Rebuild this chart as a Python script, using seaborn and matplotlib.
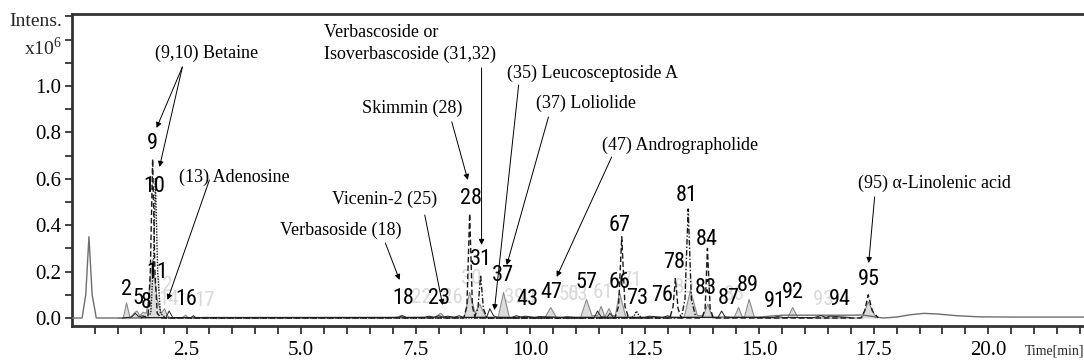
import numpy as np
import matplotlib
matplotlib.use('Agg')
import matplotlib.pyplot as plt
import seaborn as sns

sns.set_theme(style='white')
plt.rcParams['font.family'] = ['Liberation Serif', 'DejaVu Serif']
plt.rcParams['mathtext.fontset'] = 'custom'
plt.rcParams['mathtext.rm'] = 'Liberation Serif'
NUM_FONT = ['Liberation Sans Narrow', 'DejaVu Sans Condensed', 'Roboto Condensed',
            'Liberation Sans']

# ---- chromatogram traces (time in min, intensity x10^6) ----
base_t = [0.0, 0.22, 0.30, 0.37, 0.44, 0.53, 1.10, 3.00, 15.0, 15.5, 17.0, 17.25,
          17.7, 18.0, 18.3, 18.6, 18.9, 19.3, 19.8, 20.5, 22.3]
base_y = [0.0, 0.0, 0.10, 0.35, 0.10, 0.0, 0.0, 0.002, 0.004, 0.012, 0.012, 0.013,
          0.0, 0.004, 0.014, 0.02, 0.017, 0.01, 0.005, 0.004, 0.004]

fill_t = [1.00, 1.12, 1.19, 1.27, 1.35, 1.42, 1.48, 1.55, 1.62, 1.67, 1.76, 1.86, 1.95, 2.02, 2.08, 2.15,
          2.40, 2.48, 2.55, 7.10, 7.18, 7.26, 7.90, 8.05, 8.15,
          8.56, 8.68, 8.80, 8.90, 8.97, 9.05, 9.30, 9.42, 9.55,
          10.32, 10.45, 10.58, 11.10, 11.23, 11.35, 11.47, 11.55, 11.63, 11.72, 11.80, 11.86, 11.95, 12.08, 12.20,
          13.36, 13.50, 13.65, 13.78, 13.88, 13.98,
          14.45, 14.55, 14.63, 14.68, 14.78, 14.90, 15.62, 15.73, 15.85, 17.25, 17.38, 17.55]
fill_y = [0, 0, 0.065, 0, 0.02, 0.03, 0.01, 0.025, 0.02, 0.08, 0.25, 0.08, 0.02, 0.04, 0.01, 0,
          0, 0.012, 0, 0, 0.012, 0, 0, 0.02, 0,
          0, 0.11, 0.02, 0.06, 0.03, 0, 0, 0.11, 0,
          0, 0.045, 0, 0, 0.08, 0.01, 0.01, 0.05, 0.005, 0.04, 0.01, 0.01, 0.11, 0.01, 0,
          0, 0.12, 0.01, 0.01, 0.06, 0,
          0, 0.045, 0.005, 0.005, 0.08, 0, 0, 0.045, 0, 0, 0.07, 0]

dash_t = [1.50, 1.66, 1.71, 1.76, 1.81, 1.86, 1.95,
          8.55, 8.62, 8.68, 8.74, 8.80,
          11.85, 11.93, 12.00, 12.07, 12.15,
          13.05, 13.12, 13.17, 13.23, 13.30,
          13.75, 13.82, 13.87, 13.93, 14.00,
          17.22, 17.30, 17.38, 17.47, 17.60]
dash_y = [0, 0.01, 0.2, 0.685, 0.2, 0.02, 0,
          0, 0.05, 0.45, 0.05, 0,
          0, 0.05, 0.35, 0.05, 0,
          0, 0.05, 0.17, 0.04, 0,
          0, 0.04, 0.30, 0.04, 0,
          0, 0.03, 0.10, 0.03, 0]

dd_t = [8.78, 8.86, 8.92, 8.98, 9.06, 13.30, 13.38, 13.45, 13.52, 13.62]
dd_y = [0, 0.04, 0.185, 0.04, 0, 0, 0.08, 0.47, 0.08, 0]

dot_t = [1.60, 1.72, 1.78, 1.82, 1.87, 1.93, 2.05, 12.20, 12.27, 12.32, 12.38, 12.45]
dot_y = [0, 0.02, 0.25, 0.60, 0.20, 0.02, 0, 0, 0.01, 0.03, 0.01, 0]

noise_t = [1.10, 1.30, 1.38, 1.46, 1.55, 1.62, 2.05, 2.12, 2.20, 2.60, 2.65, 2.70, 3.10,
           7.00, 7.15, 7.22, 7.30, 7.70, 7.80, 7.90, 8.00, 8.10, 8.20, 8.35, 8.45, 8.55,
           9.05, 9.12, 9.20, 9.28, 9.60, 9.70, 9.80, 9.90, 10.10, 10.20, 10.70, 10.80, 11.00,
           11.40, 11.47, 11.55, 11.68, 11.74, 11.82, 12.50, 12.60, 12.90, 13.00, 13.10,
           14.10, 14.18, 14.26, 14.40, 15.30, 15.40, 15.55, 16.20, 16.35, 16.45, 16.55, 17.00]
noise_y = [0, 0.004, 0.02, 0.005, 0.01, 0.002, 0.002, 0.03, 0.002, 0.002, 0.01, 0.002, 0.001,
           0.002, 0.004, 0.01, 0.002, 0.003, 0.008, 0.003, 0.01, 0.004, 0.008, 0.003, 0.01, 0.002,
           0.003, 0.04, 0.01, 0.003, 0.002, 0.01, 0.004, 0.008, 0.002, 0.006, 0.002, 0.005, 0.002,
           0.002, 0.03, 0.005, 0.003, 0.02, 0.002, 0.002, 0.008, 0.002, 0.01, 0.002,
           0.002, 0.03, 0.004, 0.002, 0.002, 0.006, 0.002, 0.002, 0.01, 0.003, 0.008, 0.002]

# ---- peak numbers ----
peak_labels = ['2', '5', '8', '9', '10', '11', '16', '18', '23', '28', '31', '37', '43', '47', '57',
               '66', '67', '73', '76', '78', '81', '83', '84', '87', '89', '91', '92', '94', '95']
peak_t = [1.19, 1.43, 1.63, 1.76, 1.80, 1.87, 2.50, 7.22, 8.02, 8.72, 8.92, 9.40, 9.94, 10.47, 11.23,
          11.95, 11.95, 12.33, 12.89, 13.15, 13.42, 13.83, 13.85, 14.33, 14.75, 15.34, 15.73, 16.76, 17.39]
peak_y = [0.121, 0.086, 0.065, 0.754, 0.565, 0.194, 0.078, 0.086, 0.086, 0.517, 0.25, 0.185, 0.078, 0.108, 0.155,
          0.155, 0.40, 0.086, 0.099, 0.237, 0.53, 0.129, 0.34, 0.086, 0.142, 0.069, 0.108, 0.078, 0.164]

faint_labels = ['12', '14', '17', '22', '26', '30', '39', '41', '50', '53', '61', '71', '80', '86', '93']
faint_t = [1.98, 2.10, 2.89, 7.62, 8.31, 8.72, 9.65, 9.95, 10.85, 11.05, 11.60, 12.22, 13.35, 14.45, 16.39]
faint_y = [0.14, 0.08, 0.075, 0.09, 0.09, 0.17, 0.09, 0.09, 0.10, 0.10, 0.11, 0.16, 0.13, 0.10, 0.078]

# ---- compound annotations ----
ann_text = ['(9,10) Betaine', '(13) Adenosine', 'Verbasoside (18)', 'Vicenin-2 (25)', 'Skimmin (28)',
            'Verbascoside or\nIsoverbascoside (31,32)', '(35) Leucosceptoside A', '(37) Loliolide',
            '(47) Andrographolide', '(95) α-Linolenic acid']
ann_x = [2.94, 3.55, 5.86, 6.82, 7.43, 5.51, 11.36, 11.21, 13.27, 18.83]
ann_y = [1.142, 0.608, 0.379, 0.513, 0.905, 1.183, 1.056, 0.927, 0.746, 0.582]
ann_ha = ['center'] * 5 + ['left'] + ['center'] * 4

arrow_x0 = [2.41, 2.41, 3.00, 6.84, 7.70, 8.29, 8.94, 9.75, 10.40, 11.78, 17.52]
arrow_y0 = [1.082, 1.082, 0.595, 0.323, 0.444, 0.845, 1.078, 1.004, 0.866, 0.694, 0.522]
arrow_x1 = [1.845, 1.91, 2.085, 7.15, 8.09, 8.64, 8.94, 9.22, 9.49, 10.58, 17.39]
arrow_y1 = [0.819, 0.651, 0.078, 0.164, 0.056, 0.595, 0.315, 0.034, 0.228, 0.177, 0.237]

fig = plt.figure(figsize=(10.84, 3.62), dpi=100)
ax = fig.add_axes([72 / 1084, 1 - 326 / 362, 1 - 72 / 1084, (326 - 14) / 362])

for lab, t, y in zip(faint_labels, faint_t, faint_y):
    ax.text(t, y, lab, ha='center', va='center', fontsize=15, color='#dadada',
            family=NUM_FONT, fontstretch='condensed', zorder=1)

ax.fill_between(fill_t, fill_y, 0, color='#dcdcdc', zorder=2, lw=0)
sns.lineplot(x=fill_t, y=fill_y, ax=ax, color='#8a8a8a', lw=0.8, sort=False, estimator=None, zorder=3)
sns.lineplot(x=base_t, y=base_y, ax=ax, color='#6e6e6e', lw=1.0, sort=False, estimator=None, zorder=3)
sns.lineplot(x=noise_t, y=noise_y, ax=ax, color='#222222', lw=0.7, sort=False, estimator=None, zorder=4)
sns.lineplot(x=dash_t, y=dash_y, ax=ax, color='#1a1a1a', lw=1.0, linestyle=(0, (4, 2)),
             sort=False, estimator=None, zorder=5)
sns.lineplot(x=dd_t, y=dd_y, ax=ax, color='#1a1a1a', lw=1.0, linestyle=(0, (4, 1.5, 1, 1.5)),
             sort=False, estimator=None, zorder=5)
sns.lineplot(x=dot_t, y=dot_y, ax=ax, color='#1a1a1a', lw=1.0, linestyle=(0, (1, 1)),
             sort=False, estimator=None, zorder=5)

for lab, t, y in zip(peak_labels, peak_t, peak_y):
    ax.text(t, y, lab, ha='center', va='center', fontsize=16, color='black',
            family=NUM_FONT, fontstretch='condensed', zorder=6)

for txt, x, y, ha in zip(ann_text, ann_x, ann_y, ann_ha):
    ax.text(x, y, txt, ha=ha, va='center', fontsize=13, color='black', linespacing=1.3, zorder=6)

for x0, y0, x1, y1 in zip(arrow_x0, arrow_y0, arrow_x1, arrow_y1):
    ax.annotate('', xy=(x1, y1), xytext=(x0, y0),
                arrowprops=dict(arrowstyle='-|>', color='black', lw=0.7,
                                mutation_scale=8, shrinkA=0, shrinkB=0), zorder=6)

ax.set_xlim(0, 22.09)
ax.set_ylim(-0.0345, 1.31)
ax.set_xlabel('')
ax.set_ylabel('')

ax.set_xticks([2.5, 5.0, 7.5, 10.0, 12.5, 15.0, 17.5, 20.0])
ax.set_xticks(np.arange(0.5, 22.01, 0.5), minor=True)
ax.set_yticks([0.0, 0.2, 0.4, 0.6, 0.8, 1.0, 1.2])
ax.set_yticklabels(['0.0', '0.2', '0.4', '0.6', '0.8', '1.0', ''])
ax.set_yticks(np.arange(0.1, 1.31, 0.2), minor=True)
ax.tick_params(axis='both', which='both', direction='out', color='#333333', width=1.3,
               labelsize=15, labelcolor='black')
ax.tick_params(axis='x', which='both', length=6, pad=5, bottom=True)
ax.tick_params(axis='y', which='both', length=5, pad=3, left=True)

for side in ['left', 'bottom', 'top']:
    ax.spines[side].set_color('#333333')
    ax.spines[side].set_linewidth(2.0)
ax.spines['right'].set_visible(False)
ax.grid(False)

fig.text(62 / 1084, 1 - 22 / 362, 'Intens.', ha='right', va='center', fontsize=14)
fig.text(62 / 1084, 1 - 48 / 362, r'x10$^{\mathrm{6}}$', ha='right', va='center', fontsize=14)
fig.text(1.0, 1 - 351 / 362, 'Time[min]', ha='right', va='center', fontsize=10)

fig.savefig('out.png', dpi=100)
